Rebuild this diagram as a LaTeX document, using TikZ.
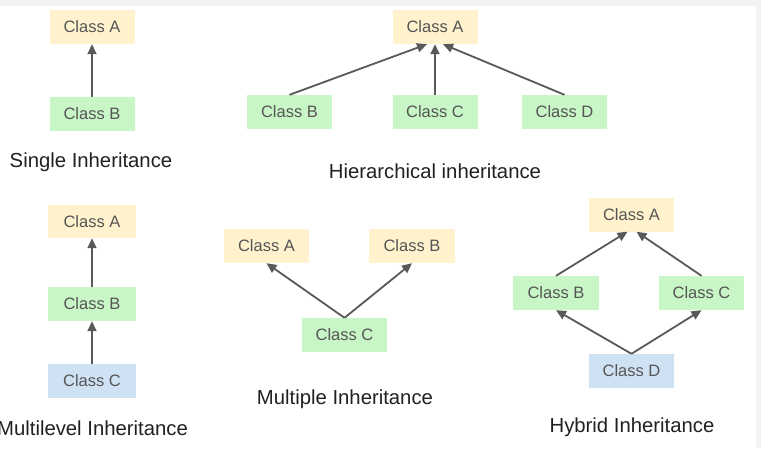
\documentclass[tikz,border=0pt]{standalone}
\usepackage{fontspec}
\setmainfont{Liberation Sans}
\usetikzlibrary{arrows.meta}
\definecolor{bggray}{HTML}{F1F3F4}
\definecolor{cyel}{HTML}{FFF2CC}
\definecolor{cgrn}{HTML}{C9F6C6}
\definecolor{cblu}{HTML}{CFE2F3}
\definecolor{ctxt}{HTML}{555555}
\definecolor{carr}{HTML}{595959}
\definecolor{clab}{HTML}{202124}
\tikzset{
  cls/.style={rectangle, inner sep=0pt, minimum width=85pt, minimum height=34pt,
    text=ctxt, font=\fontsize{16.5}{18}\selectfont},
  yel/.style={cls, fill=cyel},
  grn/.style={cls, fill=cgrn},
  blu/.style={cls, fill=cblu},
  lab/.style={text=clab, font=\fontsize{20.3}{23}\selectfont, inner sep=0pt},
  inh/.style={draw=carr, line width=1.8pt, -{Triangle[length=10pt,width=9pt]}}
}
\begin{document}
\begin{tikzpicture}[x=1pt,y=-1pt]
\fill[bggray] (0,0) rectangle (761,448);
\fill[white] (0,6) rectangle (756,448);
\useasboundingbox (0,0) rectangle (761,448);
% Single
\node[yel] (sA) at (92,27) {Class A};
\node[grn] (sB) at (92,114) {Class B};
\draw[inh] (sB.north) -- (sA.south);
\node[lab] (sL) at (91,162) {Single Inheritance};
% Hierarchical
\node[yel] (hA) at (435,27) {Class A};
\node[grn] (hB) at (289.5,112) {Class B};
\node[grn] (hC) at (435,112) {Class C};
\node[grn] (hD) at (564.5,112) {Class D};
\draw[inh] (hB.north) -- ([xshift=-8pt]hA.south);
\draw[inh] (hC.north) -- (hA.south);
\draw[inh] (hD.north) -- ([xshift=8pt]hA.south);
\node[lab] (hL) at (435,171) {Hierarchical inheritance};
% Multilevel
\node[yel, minimum width=88pt, minimum height=33pt] (mA) at (92,221.5) {Class A};
\node[grn, minimum width=88pt] (mB) at (92,304) {Class B};
\node[blu, minimum width=88pt] (mC) at (92,381) {Class C};
\draw[inh] (mB.north) -- (mA.south);
\draw[inh] (mC.north) -- (mB.south);
\node[lab] (mL) at (92.5,428) {Multilevel Inheritance};
% Multiple
\node[yel] (pA) at (266.5,246) {Class A};
\node[yel, minimum width=86pt] (pB) at (412,246) {Class B};
\node[grn] (pC) at (344.5,335) {Class C};
\draw[inh] (pC.north) -- (pA.south);
\draw[inh] (pC.north) -- (pB.south);
\node[lab] (pL) at (345,399) {Multiple Inheritance};
% Hybrid
\node[yel] (yA) at (631.5,214.5) {Class A};
\node[grn, minimum width=86pt] (yB) at (556,293) {Class B};
\node[grn] (yC) at (701.5,293) {Class C};
\node[blu] (yD) at (631.5,371) {Class D};
\draw[inh] (yB.north) -- ([xshift=-4pt]yA.south);
\draw[inh] (yC.north) -- ([xshift=5pt]yA.south);
\draw[inh] (yD.north) -- (yB.south);
\draw[inh] (yD.north) -- (yC.south);
\node[lab] (yL) at (632,427) {Hybrid Inheritance};
\end{tikzpicture}
\end{document}
